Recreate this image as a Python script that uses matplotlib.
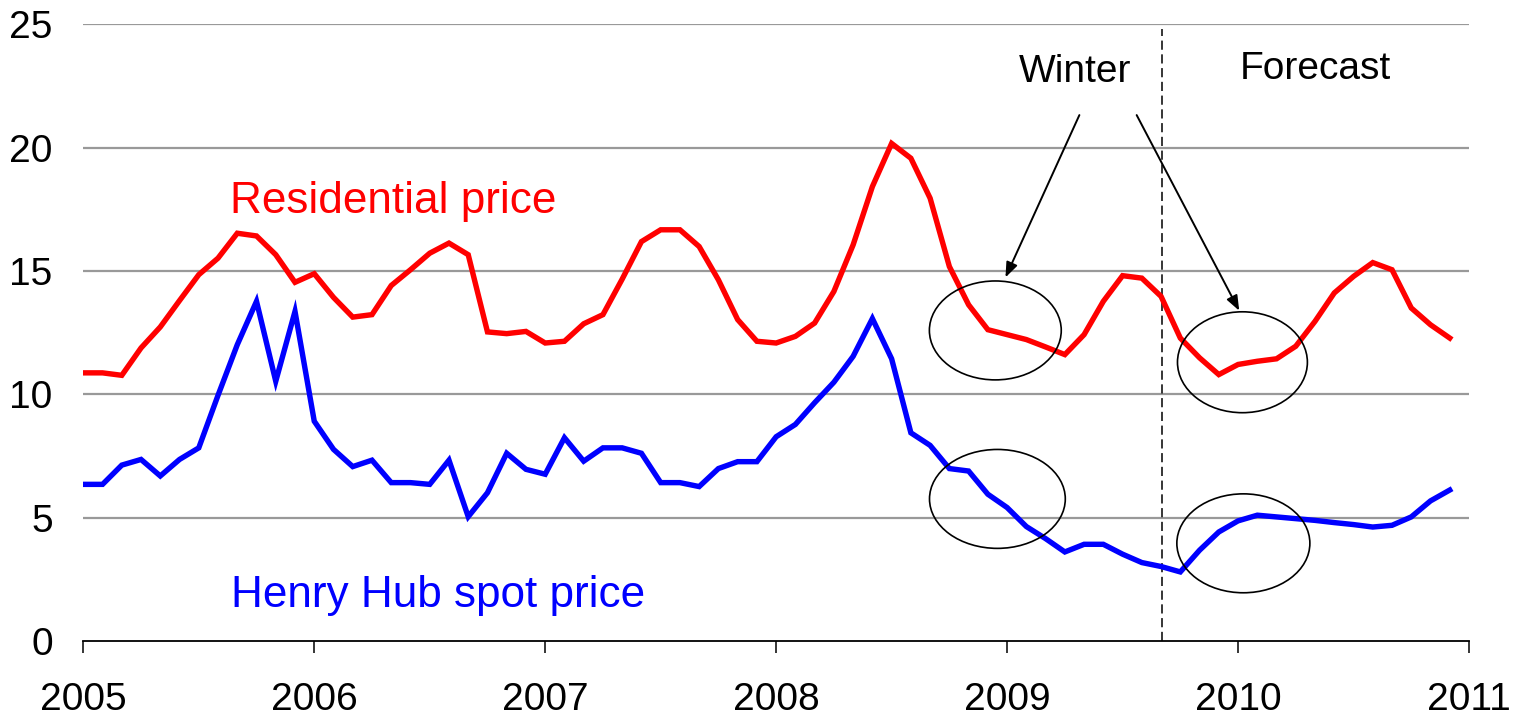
import matplotlib
matplotlib.use("Agg")
import matplotlib.pyplot as plt
from matplotlib.patches import Ellipse
import numpy as np

plt.rcParams['font.family'] = ['Liberation Sans', 'DejaVu Sans']

# Monthly data Jan 2005 - Dec 2010 ($ per thousand cubic feet)
start_year = 2005
residential = [10.87, 10.87, 10.77, 11.88, 12.73, 13.80, 14.85, 15.52, 16.53, 16.42, 15.66, 14.54,
               14.89, 13.93, 13.13, 13.23, 14.41, 15.05, 15.72, 16.13, 15.66, 12.53, 12.46, 12.55,
               12.08, 12.15, 12.86, 13.23, 14.67, 16.19, 16.67, 16.67, 15.99, 14.64, 13.03, 12.15,
               12.08, 12.35, 12.89, 14.17, 16.06, 18.42, 20.17, 19.57, 17.95, 15.18, 13.63, 12.62,
               12.42, 12.22, 11.92, 11.61, 12.42, 13.77, 14.81, 14.71, 13.97, 12.28, 11.48, 10.80,
               11.21, 11.34, 11.44, 11.95, 12.96, 14.11, 14.78, 15.34, 15.05, 13.50, 12.82, 12.28]
henry_hub = [6.35, 6.35, 7.13, 7.36, 6.69, 7.36, 7.83, 9.96, 12.01, 13.77, 10.53, 13.36,
             8.91, 7.77, 7.07, 7.33, 6.42, 6.42, 6.35, 7.33, 5.04, 6.01, 7.61, 6.96,
             6.76, 8.24, 7.29, 7.83, 7.83, 7.61, 6.42, 6.42, 6.26, 6.99, 7.27, 7.27,
             8.28, 8.78, 9.66, 10.49, 11.54, 13.07, 11.44, 8.44, 7.93, 6.99, 6.89, 5.95,
             5.41, 4.64, 4.15, 3.61, 3.92, 3.92, 3.52, 3.18, 3.02, 2.80, 3.68, 4.42,
             4.87, 5.10, 5.03, 4.96, 4.89, 4.80, 4.72, 4.62, 4.69, 5.03, 5.68, 6.12]
year_ticks = [2005, 2006, 2007, 2008, 2009, 2010, 2011]
y_ticks = [0, 5, 10, 15, 20, 25]
forecast_start = 2009.671

x = start_year + np.arange(len(residential)) / 12.0

fig = plt.figure(figsize=(15.15, 7.2), dpi=100)
ax = fig.add_axes([83.3 / 1515, 79 / 720, (1469 - 83.3) / 1515, (641 - 24.3) / 720])

ax.set_xlim(2005, 2011)
ax.set_ylim(0, 25)

for v in y_ticks[1:]:
    ax.axhline(v, color='#999999', lw=1.6, zorder=1)

ax.plot(x, residential, color='#ff0000', lw=3.9, zorder=3, solid_joinstyle='miter')
ax.plot(x, henry_hub, color='#0000ff', lw=3.9, zorder=3, solid_joinstyle='miter')

ax.plot([forecast_start, forecast_start], [0, 24.8], color='black', lw=1.1,
        ls=(0, (6, 3)), zorder=2)

for spine in ['left', 'right', 'top']:
    ax.spines[spine].set_visible(False)
ax.spines['bottom'].set_linewidth(1.3)

ax.set_xticks(year_ticks)
ax.set_xticklabels([str(y) for y in year_ticks], fontsize=28)
ax.set_yticks(y_ticks)
ax.set_yticklabels([str(v) for v in y_ticks], fontsize=28)
ax.tick_params(axis='x', direction='out', length=8.6, width=1.1, pad=21)
ax.tick_params(axis='y', length=0, pad=22)

# Ellipses
ell_specs = [(2008.949, 12.59, 0.571, 4.01),
             (2010.019, 11.30, 0.5625, 4.09),
             (2008.958, 5.76, 0.588, 4.01),
             (2010.023, 3.96, 0.576, 4.01)]
for cx, cy, w, h in ell_specs:
    ax.add_patch(Ellipse((cx, cy), w, h, fill=False, ec='black', lw=1.2, zorder=4))

# Arrows
arrowprops = dict(arrowstyle='-|>,head_length=0.9,head_width=0.35', color='black', lw=1.4,
                  shrinkA=0, shrinkB=0)
ax.annotate('', xy=(2008.993, 14.74), xytext=(2009.313, 21.32), arrowprops=arrowprops)
ax.annotate('', xy=(2010.005, 13.39), xytext=(2009.561, 21.32), arrowprops=arrowprops)

ax.text(2009.296, 22.67, 'Winter', fontsize=28, ha='center', va='baseline')
ax.text(2010.333, 22.77, 'Forecast', fontsize=28, ha='center', va='baseline')
ax.text(2005.635, 17.34, 'Residential price', fontsize=31.8, color='#ff0000', va='baseline')
ax.text(2005.64, 1.39, 'Henry Hub spot price', fontsize=31.8, color='#0000ff', va='baseline')

fig.savefig('out.png', dpi=100)
